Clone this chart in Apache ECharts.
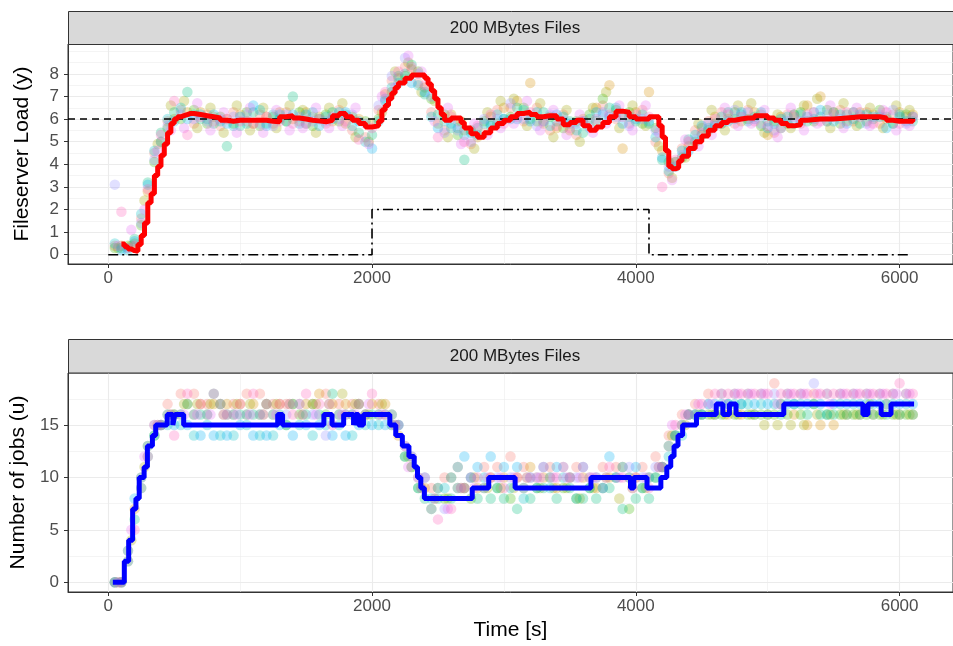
<!DOCTYPE html>
<html><head><meta charset="utf-8">
<script src="https://cdn.jsdelivr.net/npm/echarts@6/dist/echarts.min.js"></script>
<style>html,body{margin:0;padding:0;background:#fff}#c{width:953px;height:646px}</style>
</head><body><div id="c"></div>
<script>
// ---------- DATA ----------
const timeTicks = [0, 2000, 4000, 6000];
const loadTicks = [0, 1, 2, 3, 4, 5, 6, 7, 8];
const jobsTicks = [0, 5, 10, 15];
const stripTitle = '200 MBytes Files';

// sampling times of the individual runs
const timeA = [50,150,250,350,450,550,650,750,850,950,1050,1150,1250,1350,1450,1550,1650,1750,1850,1950,2050,2150,2250,2350,2450,2550,2650,2750,2850,2950,3050,3150,3250,3350,3450,3550,3650,3750,3850,3950,4050,4150,4250,4350,4450,4550,4650,4750,4850,4950,5050,5150,5250,5350,5450,5550,5650,5750,5850,5950,6050];
const timeB = [100,200,300,400,500,600,700,800,900,1000,1100,1200,1300,1400,1500,1600,1700,1800,1900,2000,2100,2200,2300,2400,2500,2600,2700,2800,2900,3000,3100,3200,3300,3400,3500,3600,3700,3800,3900,4000,4100,4200,4300,4400,4500,4600,4700,4800,4900,5000,5100,5200,5300,5400,5500,5600,5700,5800,5900,6000,6100];
const timeC = [75,175,275,375,475,575,675,775,875,975,1075,1175,1275,1375,1475,1575,1675,1775,1875,1975,2075,2175,2275,2375,2475,2575,2675,2775,2875,2975,3075,3175,3275,3375,3475,3575,3675,3775,3875,3975,4075,4175,4275,4375,4475,4575,4675,4775,4875,4975,5075,5175,5275,5375,5475,5575,5675,5775,5875,5975,6075];

// Fileserver load of individual runs (top panel)
const loadSalmon = [0.4,0.3,1.6,4.5,5.9,6.4,5.8,6.2,5.7,6.3,5.9,6.2,5.8,6.3,5.9,6.1,5.8,6.4,5.5,5.2,6.4,7.7,8.3,7.6,6.3,5.5,5.9,4.9,5.4,6.4,6.5,5.9,6.5,5.5,6.2,5.3,5.7,6.6,6.0,5.8,6.4,5.0,3.6,4.7,5.5,5.9,6.3,5.8,6.4,6.2,5.4,6.2,5.8,6.3,5.9,6.4,5.9,6.3,5.8,6.2,6.1];
const loadOlive  = [0.3,0.4,1.3,4.1,5.6,6.0,6.4,5.8,6.1,5.8,6.3,5.7,6.1,5.9,6.3,5.7,6.2,5.9,6.1,5.9,6.0,7.2,7.9,8.1,6.9,6.2,5.3,5.5,5.9,5.8,6.1,6.5,5.9,6.1,5.6,5.9,6.2,6.9,6.4,6.3,5.8,5.6,4.1,4.3,5.0,5.5,5.8,6.3,6.0,5.7,5.9,5.8,6.3,5.9,6.4,5.8,6.3,5.9,6.4,5.8,6.2];
const loadCyan   = [0.5,0.2,1.8,4.6,6.0,6.5,6.2,6.0,5.9,5.7,5.8,6.4,6.2,5.9,5.8,6.3,6.1,6.3,5.7,5.0,5.9,7.4,8.0,7.5,6.1,5.9,5.6,5.4,5.8,6.2,6.0,6.4,6.3,5.7,6.1,5.5,6.0,6.2,6.5,6.1,6.2,5.2,3.7,4.6,5.3,5.6,6.1,6.0,5.9,6.3,5.8,6.1,6.2,6.0,5.9,6.2,6.0,6.2,6.1,5.8,5.9];
const loadPurple = [3.1,0.3,1.4,4.2,5.7,6.2,6.0,5.9,6.0,6.1,6.2,5.8,5.7,6.2,6.1,5.9,5.9,6.0,6.2,5.8,6.6,7.9,8.7,8.0,7.0,5.4,5.5,5.0,6.0,6.0,6.7,6.0,5.7,6.2,5.9,5.8,5.6,6.3,6.1,5.7,6.0,5.5,3.9,4.4,5.1,5.8,5.8,6.4,6.3,5.8,5.5,5.9,5.9,6.3,6.2,6.0,6.3,5.8,6.2,6.4,5.8];
const loadOrange = [0.4,0.5,2.8,5.0,6.0,6.3,6.3,6.1,6.0,6.2,5.8,6.1,6.3,6.0,6.3,6.1,5.9,5.8,6.0,5.8,7.1,7.8,8.2,7.4,5.8,6.2,5.5,5.2,6.1,6.5,6.8,7.6,5.8,5.6,5.5,6.0,6.5,7.5,4.7,6.3,7.2,4.6,4.1,4.8,5.6,6.1,6.0,5.9,6.3,5.3,6.1,6.2,6.6,7.0,6.3,5.9,6.3,6.2,6.0,6.3,6.2];
const loadGreen  = [0.3,0.7,3.2,5.4,6.3,7.2,6.0,5.8,4.8,5.7,6.3,5.8,6.0,7.0,5.8,6.0,6.3,6.2,5.4,5.3,6.8,7.9,8.4,7.1,6.2,5.6,4.2,5.6,5.7,6.0,6.5,6.0,6.3,5.9,5.9,5.4,5.9,6.5,6.2,5.9,5.8,4.2,4.1,5.1,5.3,5.8,6.3,6.2,6.1,5.9,5.6,6.2,5.9,6.1,6.3,6.2,5.8,6.0,6.1,6.2,5.9];
const loadBlue   = [0.2,0.6,3.1,5.0,5.9,6.0,6.2,6.2,5.8,6.1,6.6,5.7,6.2,6.2,6.2,5.7,6.0,6.3,5.9,4.7,6.9,7.6,7.6,7.2,5.6,5.8,5.3,5.3,5.8,6.0,6.0,5.9,5.9,6.2,5.8,5.9,6.3,6.1,5.8,6.0,5.9,4.3,3.9,4.6,5.7,5.7,5.9,6.3,6.0,5.6,6.0,5.8,6.1,6.4,5.9,5.8,6.2,6.1,5.6,6.1,6.1];
const loadPink   = [1.9,0.4,2.9,5.3,6.8,5.3,6.1,5.9,6.0,5.9,5.8,6.1,5.9,5.8,5.8,6.0,6.1,5.9,5.1,5.6,7.2,8.1,8.3,7.5,5.2,6.1,5.0,5.7,6.2,5.8,6.1,6.3,5.9,5.7,5.6,5.9,6.0,6.2,6.1,6.2,6.1,3.0,4.2,5.0,5.4,6.0,6.2,6.1,5.9,5.7,5.6,6.1,6.2,5.9,6.2,6.3,6.1,5.8,6.3,5.8,6.1];
const loadYellow = [0.3,0.4,2.4,4.9,6.6,6.8,5.6,6.5,5.4,6.6,5.5,6.5,5.6,6.6,6.4,5.4,6.5,6.7,5.2,5.0,6.3,8.1,8.5,7.2,6.8,5.2,5.9,4.7,6.3,6.8,6.9,5.7,6.7,5.2,6.4,5.0,6.5,7.2,5.6,6.6,5.7,4.8,3.4,4.3,5.8,6.4,5.5,6.6,6.7,5.4,6.2,5.6,6.6,6.9,5.6,6.7,5.7,6.5,5.6,6.6,6.4];
const loadMagenta = [0.4,1.1,2.0,4.6,5.5,5.6,6.7,5.5,6.3,5.4,6.5,5.4,6.4,5.5,5.6,6.5,5.6,5.7,6.5,4.9,7.0,7.4,8.8,8.1,5.9,6.5,4.9,5.8,5.3,5.6,5.8,6.8,5.5,6.4,5.3,6.2,5.4,5.8,6.6,5.5,6.6,5.4,3.3,5.1,4.8,5.3,6.5,5.7,5.8,6.4,5.2,6.5,5.5,5.8,6.6,5.6,6.5,5.7,6.4,5.5,5.7];

// averaged load (red step line)
const redT = [100,125,150,175,200,225,250,275,300,325,350,375,400,425,450,475,500,525,550,575,600,625,650,700,750,800,850,900,950,1000,1050,1100,1150,1200,1250,1300,1350,1400,1450,1500,1550,1600,1650,1700,1750,1800,1850,1900,1950,2000,2050,2075,2100,2125,2150,2175,2200,2250,2300,2350,2400,2425,2450,2475,2500,2525,2550,2600,2650,2675,2700,2750,2800,2850,2900,2950,3000,3050,3100,3150,3200,3250,3300,3350,3400,3450,3500,3550,3600,3650,3700,3750,3800,3850,3900,3950,4000,4050,4100,4150,4175,4200,4225,4250,4275,4300,4325,4350,4400,4450,4500,4550,4600,4650,4700,4750,4800,4850,4900,4950,5000,5050,5100,5150,5200,5250,5300,5400,5500,5600,5700,5800,5850,5900,5950,6000,6050,6100];
const redV = [0.47,0.35,0.25,0.18,0.15,0.45,0.85,1.4,2.3,2.7,3.5,3.9,4.4,4.9,5.4,5.8,6.0,6.1,6.15,6.2,6.25,6.25,6.2,6.15,6.1,6.05,5.95,5.9,5.95,5.95,5.95,5.95,5.95,5.9,5.88,6.1,6.15,6.05,6.0,5.95,5.92,5.88,5.95,6.15,6.25,6.1,5.95,5.8,5.65,5.7,5.9,6.4,6.6,6.9,7.15,7.4,7.6,7.8,7.95,7.95,7.8,7.55,7.25,6.9,6.5,6.2,5.95,6.05,6.05,5.85,5.6,5.35,5.2,5.4,5.6,5.8,5.95,6.1,6.25,6.3,6.2,6.1,6.15,6.15,6.0,5.75,5.85,5.95,5.7,5.5,5.65,5.85,6.1,6.35,6.3,6.1,6.0,6.0,6.1,6.1,5.7,5.2,4.6,3.9,3.8,3.85,4.15,4.35,4.7,5.0,5.25,5.5,5.7,5.85,5.95,6.0,6.05,6.05,6.15,6.15,6.05,5.95,5.8,5.7,5.75,5.95,6.0,6.0,6.05,6.1,6.1,6.1,6.05,5.95,5.9,5.9,5.9,6.0];

// load target and disturbance signal
const targetLoad = 6;
const ctrlT = [0, 2000, 4100, 6090];
const ctrlV = [0, 2, 0, 0];

// number of jobs of individual runs (bottom panel)
const jobsSalmon = [0,3,10,15,17,18,18,17,17,17,18,18,17,17,17,17,18,17,17,16,17,15,13,10,9,10,11,10,11,11,12,11,10,11,11,11,10,11,11,10,11,12,14,16,17,18,18,18,18,18,19,18,18,18,18,18,18,18,18,18,18];
const jobsOlive  = [0,2,9,14,16,16,16,16,17,16,16,16,16,15,16,17,16,16,16,16,16,16,12,9,7,8,9,8,9,9,8,9,9,10,9,8,9,9,10,7,9,10,13,15,16,16,16,16,16,16,16,16,16,17,16,16,16,16,16,16,16];
const jobsCyan   = [0,3,10,14,15,15,14,15,14,14,15,14,14,15,15,14,15,15,14,15,15,15,12,9,8,9,11,10,10,9,9,8,9,9,10,8,9,9,10,10,9,10,12,14,16,17,17,17,17,17,17,17,17,17,16,17,17,17,17,17,17];
const jobsPurple = [0,2,9,15,16,16,16,16,17,16,16,16,16,16,17,16,14,16,16,16,16,16,13,10,7,7,9,10,9,10,10,9,10,10,11,10,10,9,10,11,10,11,13,15,16,17,18,18,18,18,18,18,18,19,18,18,18,18,18,18,18];
const jobsOrange = [0,7,13,15,16,17,17,17,17,17,17,17,17,17,17,18,17,17,17,17,17,14,11,9,9,10,9,9,10,10,10,11,10,9,10,10,9,10,11,10,10,11,14,16,16,16,16,16,16,16,17,16,15,15,15,16,16,16,17,16,16];
const jobsGreen  = [0,6,12,15,16,17,16,18,16,16,16,17,16,17,16,16,18,16,17,16,16,15,11,8,8,8,9,8,8,8,7,8,9,8,9,8,8,9,7,8,8,11,14,16,16,16,17,17,16,16,16,17,16,16,16,16,16,16,16,16,16];
const jobsBlue   = [0,8,13,15,15,15,14,14,14,15,14,14,15,14,15,15,14,14,15,15,15,15,12,10,9,10,12,11,12,11,11,10,11,11,10,11,10,12,11,11,10,11,14,16,16,17,17,17,17,17,17,17,17,17,17,17,17,17,17,17,17];
const jobsPink   = [0,5,12,15,14,18,17,18,16,17,18,17,17,16,18,17,15,16,17,18,16,15,12,10,6,7,9,10,10,9,10,10,11,10,10,11,10,11,10,10,9,11,15,16,17,18,18,18,18,18,18,18,18,18,18,18,18,18,18,19,18];
const jobsYellow = [0,4,11,15,16,17,17,17,16,17,17,16,17,17,16,17,17,18,17,16,17,15,12,9,8,8,9,10,9,9,9,10,9,9,9,8,9,10,8,9,9,11,14,15,16,16,16,16,16,15,15,15,15,16,16,16,16,17,16,16,16];
const jobsMagenta = [0,5,12,15,16,16,16,16,16,16,16,16,16,17,16,16,17,16,16,17,16,15,11,9,8,7,9,9,10,10,10,10,10,10,10,10,10,10,10,9,10,11,15,16,17,17,17,18,18,18,17,18,18,18,17,18,18,18,18,18,18];

// averaged number of jobs (blue step line)
const blueT = [35,122,155,185,210,235,272,297,335,360,447,490,505,572,1285,1322,1635,1697,1785,1860,1875,1897,1935,2135,2180,2230,2280,2320,2345,2370,2397,2760,2885,3085,3660,3960,3985,4085,4190,4235,4265,4290,4320,4355,4460,4610,4660,4710,4760,5122,5722,5760,5860,5935,6110];
const blueV = [0,2,4,7,8,10,11,13,14,15,16,15,16,15,16,15,16,15,16,15,16,15,16,15,14,13,12,11,10,9,8,9,10,9,10,9,10,9,10,11,12,13,14,15,16,17,16,17,16,17,16,17,16,17,17];

// ---------- CHART ----------
const FONT = 'Liberation Sans, Arial, Helvetica, sans-serif';
const chart = echarts.init(document.getElementById('c'), null, {renderer: 'canvas'});
const pairs = (t, v) => t.map((x, i) => [x, v[i]]);
const plain = v => String(v);

function gridLines(yMajor, yStep, yMax) {
  const d = [];
  const xMinor = [];
  for (let i = 0; i < timeTicks.length - 1; i++) xMinor.push((timeTicks[i] + timeTicks[i + 1]) / 2);
  const yMinor = yMajor.map(y => y + yStep / 2);
  const top = yMajor[yMajor.length - 1] + yStep;
  if (top <= yMax) yMinor.push(top);
  xMinor.forEach(x => d.push({xAxis: x, lineStyle: {width: 0.55}}));
  yMinor.forEach(y => d.push({yAxis: y, lineStyle: {width: 0.55}}));
  timeTicks.forEach(x => d.push({xAxis: x, lineStyle: {width: 1.1}}));
  yMajor.forEach(y => d.push({yAxis: y, lineStyle: {width: 1.1}}));
  return d;
}

const markBase = {silent: true, symbol: ['none', 'none'], label: {show: false}, animation: false, z: 0,
  lineStyle: {color: '#ebebeb', type: 'solid'}, emphasis: {disabled: true}};

const cols = {salmon: '#F8766D', orange: '#D89000', yellow: '#A3A500', olive: '#39B600', green: '#00BF7D',
  cyan: '#00BFC4', blue: '#00B0F6', purple: '#9590FF', magenta: '#E76BF3', pink: '#FF62BC'};

function scat(t, v, color, gi) {
  return {type: 'scatter', xAxisIndex: gi, yAxisIndex: gi, data: pairs(t, v), symbolSize: 10.5,
    itemStyle: {color: color, opacity: 0.28}, silent: true, z: 2, animation: false};
}

const topScatter = [
  scat(timeA, loadSalmon, cols.salmon, 0), scat(timeB, loadOrange, cols.orange, 0),
  scat(timeC, loadYellow, cols.yellow, 0),
  scat(timeA, loadOlive, cols.olive, 0), scat(timeB, loadGreen, cols.green, 0),
  scat(timeA, loadCyan, cols.cyan, 0), scat(timeB, loadBlue, cols.blue, 0),
  scat(timeA, loadPurple, cols.purple, 0), scat(timeC, loadMagenta, cols.magenta, 0),
  scat(timeB, loadPink, cols.pink, 0)
];
const botScatter = [
  scat(timeA, jobsSalmon, cols.salmon, 1), scat(timeB, jobsOrange, cols.orange, 1),
  scat(timeC, jobsYellow, cols.yellow, 1),
  scat(timeA, jobsOlive, cols.olive, 1), scat(timeB, jobsGreen, cols.green, 1),
  scat(timeA, jobsCyan, cols.cyan, 1), scat(timeB, jobsBlue, cols.blue, 1),
  scat(timeA, jobsPurple, cols.purple, 1), scat(timeC, jobsMagenta, cols.magenta, 1),
  scat(timeB, jobsPink, cols.pink, 1)
];

function xAxisDef(gi, withName) {
  const a = {
    type: 'value', gridIndex: gi, min: -305, max: 6405,
    axisLine: {show: true, onZero: false, lineStyle: {color: '#333333', width: 1}},
    axisTick: {show: true, length: 4, customValues: timeTicks, lineStyle: {color: '#333333', width: 1}},
    axisLabel: {customValues: timeTicks, formatter: plain, fontSize: 17, color: '#4d4d4d', margin: 6, fontFamily: FONT},
    splitLine: {show: false}
  };
  if (withName) {
    a.name = 'Time [s]'; a.nameLocation = 'middle'; a.nameGap = 28;
    a.nameTextStyle = {fontSize: 21, color: '#000', fontFamily: FONT};
  }
  return a;
}
function yAxisDef(gi, min, max, ticks, name) {
  return {
    type: 'value', gridIndex: gi, min: min, max: max,
    axisLine: {show: true, onZero: false, lineStyle: {color: '#333333', width: 1}},
    axisTick: {show: true, length: 4, customValues: ticks, lineStyle: {color: '#333333', width: 1}},
    axisLabel: {customValues: ticks, formatter: plain, fontSize: 17, color: '#4d4d4d', margin: 9, fontFamily: FONT},
    splitLine: {show: false},
    name: name, nameLocation: 'middle', nameGap: 35, nameRotate: 90,
    nameTextStyle: {fontSize: 21, color: '#000', fontFamily: FONT}
  };
}

const option = {
  backgroundColor: '#ffffff',
  animation: false,
  textStyle: {fontFamily: FONT},
  grid: [
    {left: 68, top: 44, width: 894, height: 220, show: true, borderColor: '#333333', borderWidth: 1, backgroundColor: 'rgba(0,0,0,0)', containLabel: false},
    {left: 68, top: 373, width: 894, height: 219, show: true, borderColor: '#333333', borderWidth: 1, backgroundColor: 'rgba(0,0,0,0)', containLabel: false}
  ],
  xAxis: [xAxisDef(0, false), xAxisDef(1, true)],
  yAxis: [
    yAxisDef(0, -0.41, 9.32, loadTicks, 'Fileserver Load (y)'),
    yAxisDef(1, -0.93, 19.97, jobsTicks, 'Number of jobs (u)')
  ],
  graphic: [
    {type: 'rect', shape: {x: 68.5, y: 11.5, width: 894, height: 33}, style: {fill: '#d9d9d9', stroke: '#333333', lineWidth: 1}, z: 10},
    {type: 'text', x: 515, y: 28, style: {text: stripTitle, font: '17px ' + FONT, fill: '#1a1a1a', align: 'center', verticalAlign: 'middle', textAlign: 'center', textVerticalAlign: 'middle'}, z: 11},
    {type: 'rect', shape: {x: 68.5, y: 339.5, width: 894, height: 33.5}, style: {fill: '#d9d9d9', stroke: '#333333', lineWidth: 1}, z: 10},
    {type: 'text', x: 515, y: 356.5, style: {text: stripTitle, font: '17px ' + FONT, fill: '#1a1a1a', align: 'center', verticalAlign: 'middle', textAlign: 'center', textVerticalAlign: 'middle'}, z: 11}
  ],
  series: [
    {type: 'line', xAxisIndex: 0, yAxisIndex: 0, data: [], z: 0, silent: true,
      markLine: Object.assign({}, markBase, {data: gridLines(loadTicks, 1, 9.32)})},
    {type: 'line', xAxisIndex: 1, yAxisIndex: 1, data: [], z: 0, silent: true,
      markLine: Object.assign({}, markBase, {data: gridLines(jobsTicks, 5, 19.97)})},
    ...topScatter,
    ...botScatter,
    {type: 'line', xAxisIndex: 0, yAxisIndex: 0, data: pairs(ctrlT, ctrlV), step: 'end', showSymbol: false, silent: true, z: 3,
      lineStyle: {color: '#000000', width: 1.6, type: [10, 4, 2, 4]},
      markLine: {silent: true, symbol: ['none', 'none'], label: {show: false}, animation: false, z: 3,
        lineStyle: {color: '#000000', width: 1.6, type: [7, 5]}, data: [{yAxis: targetLoad}]}},
    {type: 'line', xAxisIndex: 0, yAxisIndex: 0, data: pairs(redT, redV), step: 'end', showSymbol: false, silent: true, z: 4,
      lineStyle: {color: '#FF0000', width: 5}},
    {type: 'line', xAxisIndex: 1, yAxisIndex: 1, data: pairs(blueT, blueV), step: 'end', showSymbol: false, silent: true, z: 4,
      lineStyle: {color: '#0000FF', width: 5}}
  ]
};
chart.setOption(option);
</script>
</body></html>
